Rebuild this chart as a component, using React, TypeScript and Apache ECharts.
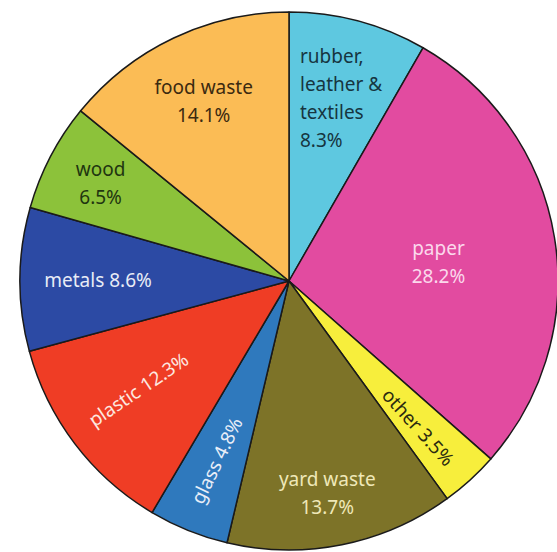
import React, { useEffect, useRef } from "react";
import * as echarts from "echarts";

const categories = [
  "rubber,\nleather &\ntextiles",
  "paper",
  "other",
  "yard waste",
  "glass",
  "plastic",
  "metals",
  "wood",
  "food waste",
];
const values = [8.3, 28.2, 3.5, 13.7, 4.8, 12.3, 8.6, 6.5, 14.1];
const labelSep = ["\n", "\n", " ", "\n", " ", " ", " ", "\n", "\n"];

const sliceColors = ["#5ec8e0", "#e24ba0", "#f7ee3c", "#7d7328", "#2f79bd", "#ef3d25", "#2c4aa4", "#8cc23a", "#fbbc55"];
const textColors = ["#163540", "#fbd8ec", "#2a2a10", "#efe8b8", "#e8eef8", "#fde8e0", "#e8ecf6", "#1f3510", "#3b2a10"];
// label radial distance (fraction of radius), angle shift (deg), rotation (deg), align
const labelFrac = [0.68, 0.56, 0.725, 0.8, 0.72, 0.69, 0.71, 0.79, 0.74];
const labelShift = [-11.5, 2.1, 0.8, 1.1, 0, 1.5, 0, 0, 0];
const labelRot = [0, 0, -48, 0, 64, 34, 0, 0, 0];
const labelAlign = ["left", "center", "center", "center", "center", "center", "center", "center", "center"];

const CX = 289;
const CY = 281;
const R = 269;

export default function App() {
  const ref = useRef<HTMLDivElement>(null);
  useEffect(() => {
    if (!ref.current) return;
    const chart = echarts.init(ref.current, null, { renderer: "svg" });
    const total = values.reduce((a, b) => a + b, 0);
    const mids: number[] = [];
    let acc = 0;
    values.forEach((v) => {
      mids.push(((acc + v / 2) / total) * 360);
      acc += v;
    });
    chart.setOption({
      animation: false,
      series: [
        {
          type: "pie",
          center: [CX, CY],
          radius: [0, R],
          startAngle: 90,
          clockwise: true,
          avoidLabelOverlap: false,
          labelLine: { show: false },
          itemStyle: { borderColor: "#1a1a1a", borderWidth: 1.5 },
          label: {
            show: true,
            position: "inside",
            fontFamily: "Noto Sans",
            fontSize: 19,
            lineHeight: 28,
          },
          labelLayout: (p: any) => {
            const i = p.dataIndex;
            const ang = ((mids[i] + labelShift[i]) * Math.PI) / 180;
            const d = labelFrac[i] * R;
            return {
              x: CX + d * Math.sin(ang),
              y: CY - d * Math.cos(ang),
              align: labelAlign[i],
              verticalAlign: "middle",
            };
          },
          data: categories.map((name, i) => ({
            name,
            value: values[i],
            itemStyle: { color: sliceColors[i] },
            label: {
              color: textColors[i],
              rotate: labelRot[i],
              align: labelAlign[i],
              formatter: () => `${name}${labelSep[i]}${values[i].toFixed(1)}%`,
            },
          })),
        },
      ],
    });
    return () => chart.dispose();
  }, []);
  return (
    <div
      ref={ref}
      style={{ position: "fixed", left: 0, top: 0, width: 557, height: 552, background: "#ffffff" }}
    />
  );
}
